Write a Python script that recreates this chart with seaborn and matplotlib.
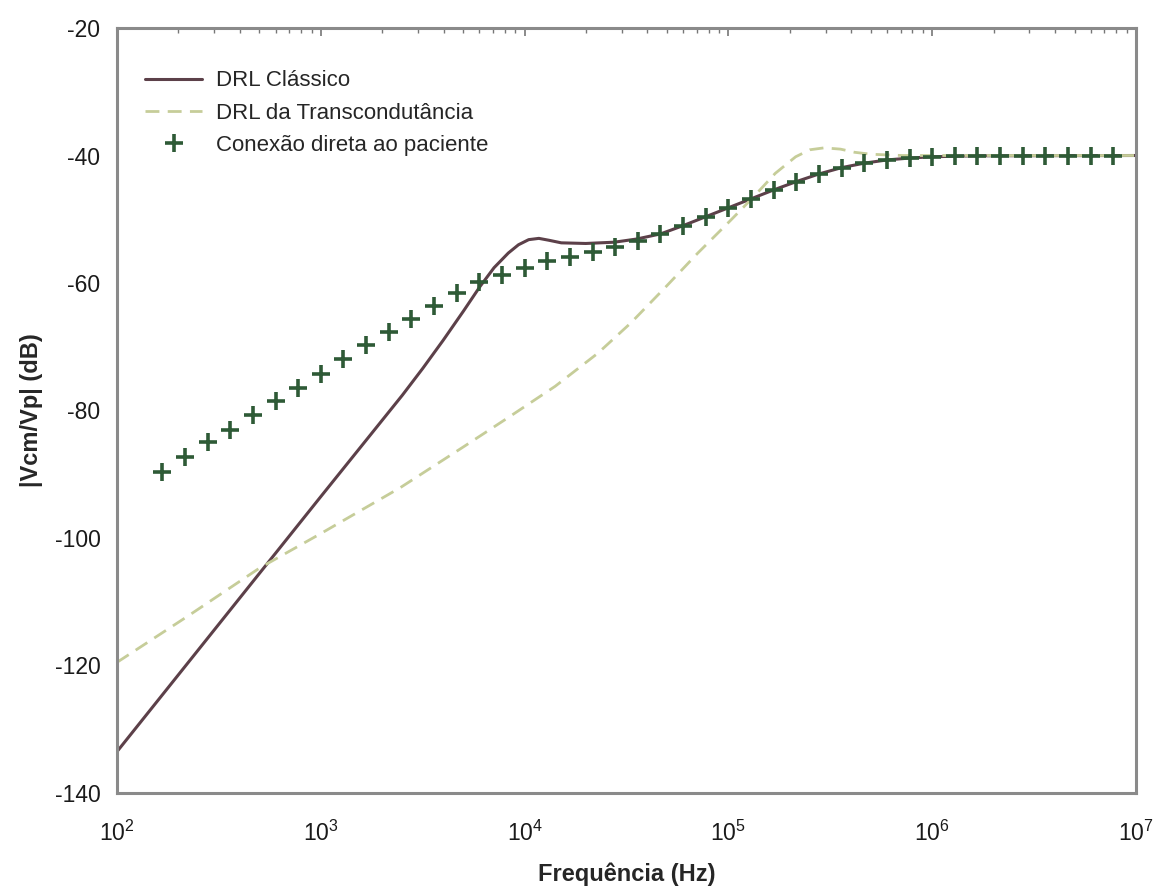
import numpy as np
import pandas as pd
import matplotlib
matplotlib.use('Agg')
import matplotlib.pyplot as plt
import seaborn as sns

# log10 of frequency (Hz) and magnitude (dB)
classico_exp = [2.0, 2.5, 3.0, 3.4, 3.5, 3.6, 3.7, 3.78, 3.85, 3.92, 3.97, 4.02,
                4.07, 4.12, 4.18, 4.3, 4.44, 4.55, 4.667, 4.778, 4.889, 5.0,
                5.111, 5.222, 5.333, 5.444, 5.556, 5.667, 5.778, 5.889, 6.0,
                6.2, 7.0]
classico_db = [-133.5, -113.5, -93.5, -77.6, -73.4, -69.0, -64.4, -60.6, -57.6,
               -55.3, -54.0, -53.2, -53.0, -53.3, -53.7, -53.8, -53.6, -53.1,
               -52.3, -51.0, -49.6, -48.2, -46.8, -45.4, -44.1, -42.9, -41.9,
               -41.2, -40.7, -40.4, -40.2, -40.05, -40.0]

transc_exp = [2.0, 2.35, 2.7, 3.0, 3.39, 3.7, 3.92, 4.15, 4.36, 4.52, 4.69, 4.85,
              5.01, 5.12, 5.23, 5.33, 5.4, 5.47, 5.55, 5.62, 5.7, 5.85, 7.0]
transc_db = [-119.5, -112.2, -104.7, -99.3, -92.1, -85.7, -81.1, -76.2, -71.0,
             -66.3, -60.7, -55.3, -50.2, -46.6, -42.8, -40.2, -39.1, -38.8,
             -39.0, -39.5, -39.8, -40.0, -40.0]

# direct connection: 9 samples per decade, from 10^(2+2/9) to 10^(2+44/9)
direta_freq = np.logspace(2 + 2 / 9, 2 + 44 / 9, 43)
direta_db = [-89.6, -87.3, -85.0, -83.0, -80.7, -78.5, -76.4, -74.2, -72.0,
             -69.8, -67.7, -65.6, -63.6, -61.6, -59.8, -58.7, -57.6, -56.6,
             -56.0, -55.2, -54.4, -53.4, -52.3, -51.0, -49.6, -48.2, -46.8,
             -45.4, -44.1, -42.9, -41.9, -41.2, -40.7, -40.4, -40.2, -40.1,
             -40.0, -40.0, -40.0, -40.0, -40.0, -40.0, -40.0]

labels = ['DRL Clássico', 'DRL da Transcondutância', 'Conexão direta ao paciente']

sns.set_style('white')
plt.rcParams['font.family'] = ['Liberation Sans', 'DejaVu Sans']
plt.rcParams['mathtext.fontset'] = 'custom'
plt.rcParams['mathtext.rm'] = 'Liberation Sans'
plt.rcParams['mathtext.it'] = 'Liberation Sans'
plt.rcParams['axes.unicode_minus'] = False

df_c = pd.DataFrame({'f': np.power(10.0, classico_exp), 'db': classico_db})
df_t = pd.DataFrame({'f': np.power(10.0, transc_exp), 'db': transc_db})
df_d = pd.DataFrame({'f': direta_freq, 'db': direta_db})

fig = plt.figure(figsize=(11.67, 8.89), dpi=100)
ax = fig.add_axes([0.1003, 0.108, 0.8731, 0.8605])

sns.lineplot(data=df_c, x='f', y='db', ax=ax, color='#5c4049', lw=2.2,
             label=labels[0])
sns.lineplot(data=df_t, x='f', y='db', ax=ax, color='#c6cd99', lw=2.0,
             label=labels[1], dashes=False, linestyle=(0, (5, 3)))
ax.plot(df_d['f'], df_d['db'], linestyle='none', marker='+', markersize=13,
        mew=2.6, color='#2e5a36', label=labels[2])

ax.set_xscale('log')
ax.set_xlim(1e2, 1e7)
ax.set_ylim(-140, -20)
ax.set_yticks(np.arange(-140, -19, 20))

for s in ax.spines.values():
    s.set_color('#8a8a8a')
    s.set_linewidth(2.2)
ax.tick_params(axis='both', which='both', direction='in', colors='#777777',
               labelcolor='#1a1a1a', labelsize=16.5, top=True, right=False)
ax.tick_params(which='major', length=6, width=1.2)
ax.tick_params(which='minor', length=3.5, width=1.0)
ax.tick_params(axis='y', pad=12)
ax.tick_params(axis='x', pad=20)
ax.minorticks_on()
ax.yaxis.set_minor_locator(matplotlib.ticker.NullLocator())

ax.set_xlabel('Frequência (Hz)', fontsize=17, fontweight='bold',
              family=['Liberation Sans Narrow', 'Liberation Sans'], labelpad=12)
ax.set_ylabel('|Vcm/Vp| (dB)', fontsize=17, fontweight='bold',
              family=['Liberation Sans Narrow', 'Liberation Sans'], labelpad=8)

leg = ax.legend(loc='upper left', bbox_to_anchor=(0.014, 0.962), frameon=False,
                fontsize=16, handlelength=2.6, handletextpad=0.6,
                labelspacing=0.5, borderaxespad=0.2)

plt.savefig('out.png', dpi=100)
